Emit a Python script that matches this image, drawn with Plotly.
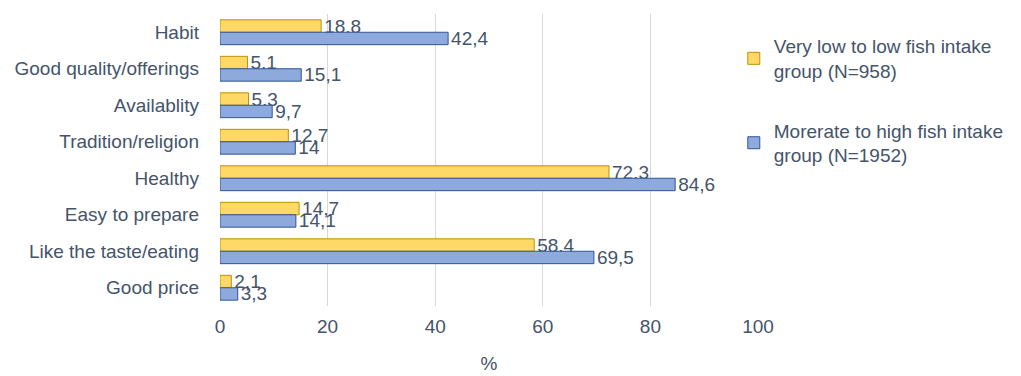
import plotly.graph_objects as go

categories = ["Habit", "Good quality/offerings", "Availablity", "Tradition/religion",
              "Healthy", "Easy to prepare", "Like the taste/eating", "Good price"]
low_vals = [18.8, 5.1, 5.3, 12.7, 72.3, 14.7, 58.4, 2.1]
high_vals = [42.4, 15.1, 9.7, 14, 84.6, 14.1, 69.5, 3.3]
series_names = ["Very low to low fish intake<br>group (N=958)",
                "Morerate to high fish intake<br>group (N=1952)"]
x_ticks = [0, 20, 40, 60, 80, 100]

def fmt(v):
    s = ("%g" % v)
    return s.replace(".", ",")

FONT = "Liberation Sans"
TXT = "#44546A"
FS = 19

fig = go.Figure()
fig.add_trace(go.Bar(
    y=categories, x=low_vals, orientation="h", name=series_names[0],
    marker=dict(color="#FFD966", line=dict(color="#BF9000", width=1)),
    text=[fmt(v) for v in low_vals], textposition="outside", cliponaxis=False,
    constraintext="none",
    textfont=dict(color=TXT, size=FS, family=FONT), legendgroup="a",
))
fig.add_trace(go.Bar(
    y=categories, x=high_vals, orientation="h", name=series_names[1],
    marker=dict(color="#8EA9DB", line=dict(color="#2F5597", width=1)),
    text=[fmt(v) for v in high_vals], textposition="outside", cliponaxis=False,
    constraintext="none",
    textfont=dict(color=TXT, size=FS, family=FONT), legendgroup="b",
))

# page body has an 8px margin, so the figure is sized to fit the window
fig.update_layout(
    width=1013, height=368,
    margin=dict(l=212, r=263, t=6, b=70),
    barmode="group", bargap=0.32, bargroupgap=0,
    plot_bgcolor="white", paper_bgcolor="white",
    font=dict(family=FONT, size=FS, color=TXT),
    showlegend=True,
    legend=dict(x=0.955, y=0.955, xanchor="left", yanchor="top",
                traceorder="grouped", tracegroupgap=32, itemwidth=30,
                font=dict(size=FS, color=TXT, family=FONT)),
)
fig.update_xaxes(range=[0, 100], tickvals=x_ticks, showgrid=True, gridcolor="#D9D9D9",
                 zeroline=False, showline=False, ticks="", automargin=False,
                 ticklabelstandoff=7,
                 title=dict(text="%", font=dict(size=FS, color=TXT), standoff=20),
                 tickfont=dict(size=FS, color=TXT))
fig.update_yaxes(autorange="reversed", showgrid=False, showline=False, ticks="",
                 automargin=False, ticklabelstandoff=20, tickfont=dict(size=FS, color=TXT))

fig.write_html("out.html")
